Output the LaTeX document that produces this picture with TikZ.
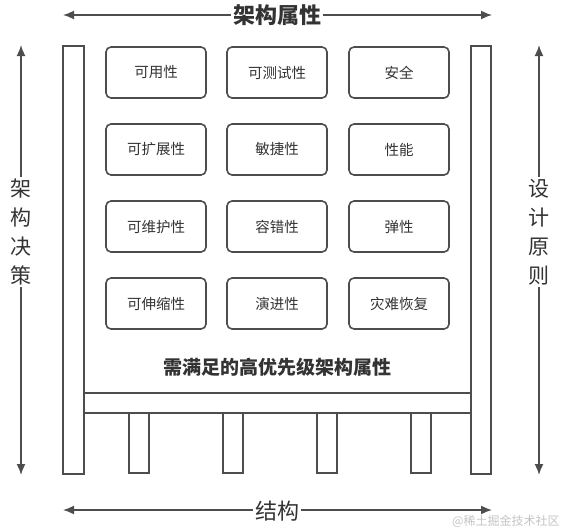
\documentclass[tikz,border=0pt]{standalone}
\usepackage{fontspec}
\setmainfont{Noto Sans CJK SC}
\usetikzlibrary{arrows.meta}
\definecolor{ln}{HTML}{4D4D4D}
\definecolor{tx}{HTML}{333333}
\definecolor{wm}{HTML}{C4C4C4}
\tikzset{
  pillar/.style={draw=ln, line width=1.8pt, fill=white, minimum width=#1, inner sep=0pt},
  attr/.style={draw=ln, line width=1.6pt, rounded corners=5pt, minimum width=100pt, minimum height=51pt, inner sep=0pt, text=tx, font=\fontsize{14.5}{16}\selectfont},
  arr/.style={draw=ln, line width=1.6pt, -{Latex[length=11pt,width=9pt]}},
  biglabel/.style={text=tx, inner sep=2pt, font=\fontsize{22}{24}\selectfont},
  vlabel/.style={text=tx, inner sep=2pt, align=center, font=\fontsize{21}{29}\selectfont}
}
\begin{document}
\begin{tikzpicture}[x=1pt,y=-1pt]
\useasboundingbox (0,0) rectangle (561,530);
% side pillars
\node[pillar=21pt, minimum height=428pt] (lp) at (73.5,260) {};
\node[pillar=20pt, minimum height=428pt] (rp) at (481,260) {};
% beam
\node[pillar=387pt, minimum height=20pt] (beam) at (277.5,403) {};
% small pillars
\foreach \i/\x in {1/139, 2/233, 3/327, 4/421}{
  \node[pillar=20pt, minimum height=60pt] (sp\i) at (\x,443) {};
}
% attribute boxes
\node[attr] (a11) at (156,72.5) {可用性};
\node[attr] (a12) at (277,72.5) {可测试性};
\node[attr] (a13) at (399,72.5) {安全};
\node[attr] (a21) at (156,149.5) {可扩展性};
\node[attr] (a22) at (277,149.5) {敏捷性};
\node[attr] (a23) at (399,149.5) {性能};
\node[attr] (a31) at (156,226.5) {可维护性};
\node[attr] (a32) at (277,226.5) {容错性};
\node[attr] (a33) at (399,226.5) {弹性};
\node[attr] (a41) at (156,303.5) {可伸缩性};
\node[attr] (a42) at (277,303.5) {演进性};
\node[attr] (a43) at (399,303.5) {灾难恢复};
\node[text=tx, font=\fontsize{19}{21}\selectfont\bfseries] (prio) at (277,367) {需满足的高优先级架构属性};
% top arrow
\node[biglabel, font=\fontsize{22}{24}\selectfont\bfseries] (top) at (277,15) {架构属性};
\coordinate (tl) at (63,15);
\coordinate (tr) at (492,15);
\draw[arr] (top) -- (tl);
\draw[arr] (top) -- (tr);
% bottom arrow
\node[biglabel] (bot) at (277,511) {结构};
\coordinate (bl) at (63,510);
\coordinate (br) at (492,510);
\draw[arr] (bot.west |- bl) -- (bl);
\draw[arr] (bot.east |- br) -- (br);
% left arrow
\node[vlabel] (left) at (21,232) {架\\构\\决\\策};
\coordinate (lt) at (21,45);
\coordinate (lb) at (21,475);
\draw[arr] (left) -- (lt);
\draw[arr] (left) -- (lb);
% right arrow
\node[vlabel] (right) at (539,232) {设\\计\\原\\则};
\coordinate (rt) at (539,45);
\coordinate (rb) at (539,475);
\draw[arr] (right) -- (rt);
\draw[arr] (right) -- (rb);
% watermark
\node[anchor=west, text=wm, inner sep=0pt, font=\fontsize{12}{14}\selectfont] (wmk) at (452,521) {@稀土掘金技术社区};
\end{tikzpicture}
\end{document}
